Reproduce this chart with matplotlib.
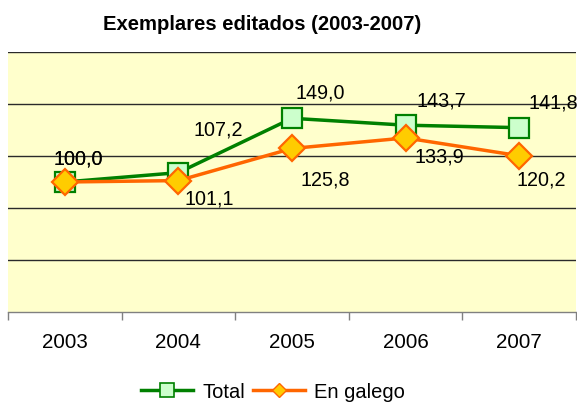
import matplotlib
matplotlib.use("Agg")
import matplotlib.pyplot as plt
from matplotlib.lines import Line2D
import numpy as np

plt.rcParams['font.family'] = ['Liberation Sans', 'DejaVu Sans']

years = ["2003", "2004", "2005", "2006", "2007"]
total = [100.0, 107.2, 149.0, 143.7, 141.8]
galego = [100.0, 101.1, 125.8, 133.9, 120.2]
total_labels = ["100,0", "107,2", "149,0", "143,7", "141,8"]
galego_labels = ["100,0", "101,1", "125,8", "133,9", "120,2"]

# label offsets in pixels (dx, dy) with dy positive = up
total_off = [(13, 23), (40, 43), (28, 25), (36, 24), (34, 25)]
galego_off = [(13, 23), (31, -18), (33, -32), (34, -19), (22, -24)]

green = '#008000'
orange = '#FF6600'

fig = plt.figure(figsize=(5.77, 4.05), dpi=100)
ax = fig.add_axes([8/577, 1-312/405, 568/577, 260/405])
ax.set_facecolor('#FFFFCC')

x = np.arange(len(years))
ax.set_xlim(-0.5, len(years) - 0.5)
ax.set_ylim(0, 200)

for v in [40, 80, 120, 160, 200]:
    ax.axhline(v, color='#2a2a2a', lw=1.0, zorder=1)

ax.plot(x, total, color=green, lw=2.5, marker='s', markersize=14.5,
        markerfacecolor='#CCFFCC', markeredgecolor=green, markeredgewidth=1.6,
        zorder=3)
ax.plot(x, galego, color=orange, lw=2.5, marker='D', markersize=13,
        markerfacecolor='#FFCC00', markeredgecolor=orange, markeredgewidth=1.6,
        zorder=4)

for i in range(len(years)):
    ax.annotate(total_labels[i], (x[i], total[i]), xytext=total_off[i],
                textcoords='offset pixels', ha='center', va='center', fontsize=14.2, zorder=5)
    ax.annotate(galego_labels[i], (x[i], galego[i]), xytext=galego_off[i],
                textcoords='offset pixels', ha='center', va='center', fontsize=14.2, zorder=5)

for s in ['left', 'right', 'top']:
    ax.spines[s].set_visible(False)
ax.spines['bottom'].set_color('#808080')
ax.spines['bottom'].set_linewidth(1.0)

ax.set_yticks([])
ax.set_xticks(np.arange(-0.5, len(years), 1.0))
ax.set_xticklabels([])
ax.set_xticks(x, minor=True)
ax.set_xticklabels(years, minor=True, fontsize=14.8)
ax.tick_params(axis='x', which='major', direction='out', length=6, color='#808080', width=1)
ax.tick_params(axis='x', which='minor', length=0, pad=15)

fig.text(262/577, 1-24/405, "Exemplares editados (2003-2007)", ha='center', va='center',
         fontsize=14.6, fontweight='bold')

handles = [
    Line2D([], [], color=green, lw=2.5, marker='s', markersize=10,
           markerfacecolor='#CCFFCC', markeredgecolor=green, markeredgewidth=1.2),
    Line2D([], [], color=orange, lw=2.5, marker='D', markersize=7,
           markerfacecolor='#FFCC00', markeredgecolor=orange, markeredgewidth=1.0),
]
fig.legend(handles, ['Total', 'En galego'], loc='center',
           bbox_to_anchor=(273/577, 1-392/405), ncol=2, frameon=False,
           fontsize=14.5, handlelength=2.6, columnspacing=0.4, handletextpad=0.45)

fig.savefig('out.png', dpi=100)
